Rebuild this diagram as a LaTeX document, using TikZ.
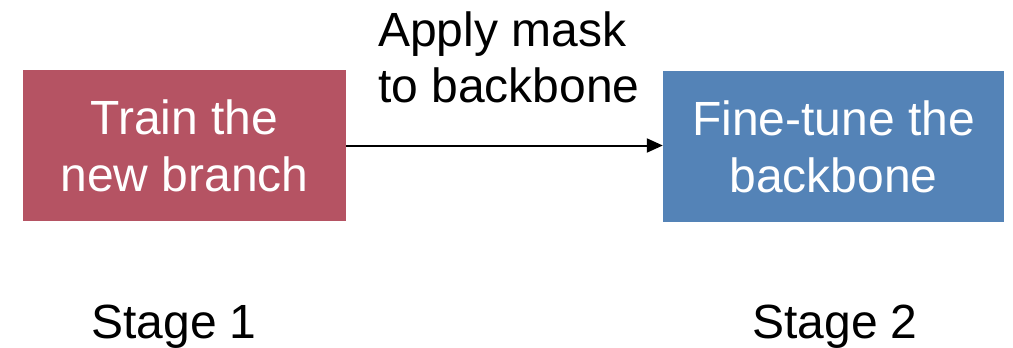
\documentclass[tikz,border=0pt]{standalone}
\usepackage{fontspec}
\setmainfont{Liberation Sans}
\usetikzlibrary{arrows.meta}
\definecolor{stageonered}{HTML}{B55363}
\definecolor{stagetwoblue}{HTML}{5483B7}
\begin{document}
\begin{tikzpicture}[x=1pt,y=-1pt,
  stagebox/.style={draw=none,minimum width=#1,minimum height=151pt,inner sep=0pt,
    text=white,align=center,font=\fontsize{48}{57}\selectfont},
  plainlabel/.style={inner sep=0pt,font=\fontsize{48}{56}\selectfont},
  flow/.style={line width=2pt,-{Triangle[length=16pt,width=14pt]}}]
  \useasboundingbox (0,0) rectangle (1013,348);
  % the two stages
  \node[stagebox=323pt,fill=stageonered] (train) at (184.5,145.5)
    {Train the\\new branch};
  \node[stagebox=341pt,fill=stagetwoblue] (tune) at (833.5,146.5)
    {Fine-tune the\\backbone};
  % transition between the stages
  \draw[flow] (train.east) -- (train.east -| tune.west);
  \node[plainlabel,align=left,anchor=west] (mask) at (378,57.5)
    {Apply mask\\to backbone};
  % stage captions
  \node[plainlabel,anchor=base] (s1) at (174,338) {Stage 1};
  \node[plainlabel,anchor=base] (s2) at (835,338) {Stage 2};
\end{tikzpicture}
\end{document}
